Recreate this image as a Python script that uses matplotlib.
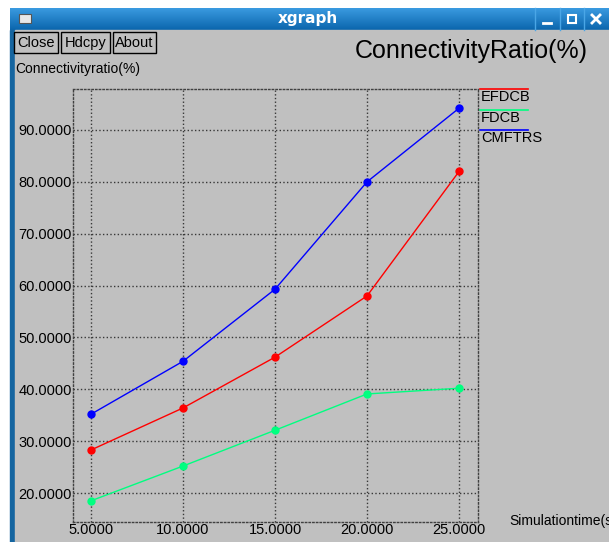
import numpy as np
import matplotlib
matplotlib.use('Agg')
import matplotlib.pyplot as plt
from matplotlib.patches import Rectangle

sim_time = [5, 10, 15, 20, 25]
efdcb = [28.3, 36.4, 46.2, 58.0, 82.0]
fdcb = [18.5, 25.2, 32.1, 39.1, 40.2]
cmftrs = [35.2, 45.4, 59.3, 80.0, 94.2]
series_names = ['EFDCB', 'FDCB', 'CMFTRS']
series_colors = ['#ff0000', '#00ff80', '#0000ff']
x_ticks = [5, 10, 15, 20, 25]
y_ticks = [20, 30, 40, 50, 60, 70, 80, 90]

W, H = 609, 542
GRAY = '#c0c0c0'
FONT = 'Liberation Sans'

fig = plt.figure(figsize=(W / 100, H / 100), dpi=100)
fig.patch.set_facecolor('white')

# window frame drawn in pixel coordinates
bg = fig.add_axes([0, 0, 1, 1])
bg.set_xlim(0, W)
bg.set_ylim(H, 0)
bg.axis('off')

# title bar gradient
grad = np.linspace(0, 1, 50).reshape(-1, 1)
bg.imshow(grad, extent=[10, W, 30, 8], cmap=matplotlib.colors.LinearSegmentedColormap.from_list(
    'tb', ['#3a9ae0', '#0b66ad']), aspect='auto', zorder=1)
bg.add_patch(Rectangle((10, 30), 5, H - 30, color='#1565a0', zorder=1))
bg.add_patch(Rectangle((15, 30), W - 15, H - 30, color=GRAY, zorder=1))
bg.add_patch(Rectangle((19, 14), 12, 9, facecolor='#e8e8e8', edgecolor='#555555', lw=0.8, zorder=2))
bg.text(308, 19, 'xgraph', color='white', fontsize=11, fontweight='bold',
        family='DejaVu Sans', ha='center', va='center', zorder=3)
for sx in [535, 560, 584]:
    bg.plot([sx, sx], [8, 30], color='#4aa6e6', lw=1, zorder=2)
bg.plot([543, 551], [23, 23], color='white', lw=2, zorder=3)
bg.add_patch(Rectangle((568, 15), 8, 8, facecolor='none', edgecolor='white', lw=1.5, zorder=3))
bg.plot([592, 600], [15, 23], color='white', lw=2, zorder=3)
bg.plot([592, 600], [23, 15], color='white', lw=2, zorder=3)

# buttons
for label, x0, x1 in [('Close', 14, 58), ('Hdcpy', 61, 110), ('About', 113, 156)]:
    bg.add_patch(Rectangle((x0, 32), x1 - x0, 21, facecolor=GRAY, edgecolor='black', lw=1, zorder=2))
    bg.text((x0 + x1) / 2, 43, label, fontsize=10.5, family=FONT, ha='center', va='center', zorder=3)

bg.text(588, 51, 'ConnectivityRatio(%)', fontsize=18, family=FONT, ha='right', va='center', zorder=3)
bg.text(15, 69, 'Connectivityratio(%)', fontsize=10, family=FONT, ha='left', va='center', zorder=3)
bg.text(509, 521, 'Simulationtime(sec)', fontsize=10, family=FONT, ha='left', va='center', zorder=3)

# legend
for i, (name, col) in enumerate(zip(series_names, series_colors)):
    yl = 89 + i * 20.5
    bg.plot([480, 528], [yl, yl], color=col, lw=1.2, zorder=3)
    bg.text(481, yl + 8, name, fontsize=10.5, family=FONT, ha='left', va='center', zorder=3)

# plot area
ax = fig.add_axes([73 / W, 1 - 522 / H, (478 - 73) / W, (522 - 89) / H])
ax.patch.set_alpha(0)
ax.set_xlim(4.02, 26.03)
ax.set_ylim(14.41, 97.9)
for sp in ax.spines.values():
    sp.set_linestyle(':')
    sp.set_color('#404040')
    sp.set_linewidth(1)
ax.set_xticks(x_ticks)
ax.set_yticks(y_ticks)
ax.set_xticklabels(['%.4f' % v for v in x_ticks], fontsize=10.5, family=FONT)
ax.set_yticklabels(['%.4f' % v for v in y_ticks], fontsize=10.5, family=FONT)
ax.tick_params(length=0, pad=1, colors='black')
ax.grid(True, linestyle=':', color='#383838', linewidth=1)
ax.set_axisbelow(True)

for vals, col in zip([efdcb, fdcb, cmftrs], series_colors):
    ax.plot(sim_time, vals, color=col, lw=1, marker='o', markersize=5, zorder=3)

fig.savefig('out.png', dpi=100)
